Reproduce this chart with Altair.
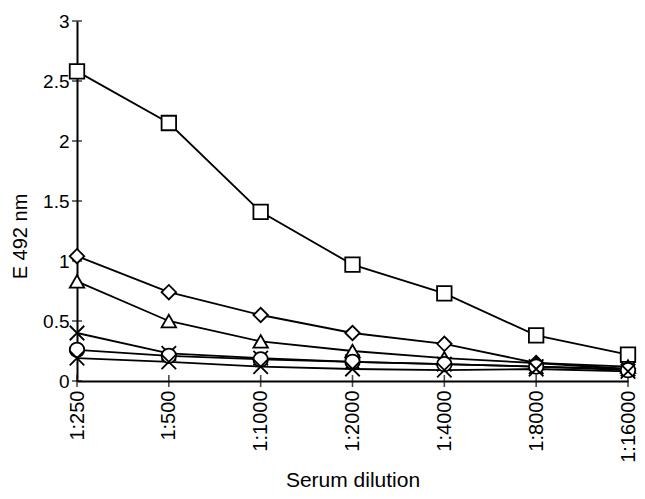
import altair as alt
import pandas as pd

dilutions = ["1:250", "1:500", "1:1000", "1:2000", "1:4000", "1:8000", "1:16000"]
s_square = [2.58, 2.15, 1.41, 0.97, 0.73, 0.38, 0.22]
s_diamond = [1.04, 0.74, 0.55, 0.40, 0.31, 0.15, 0.10]
s_triangle = [0.83, 0.50, 0.33, 0.25, 0.19, 0.15, 0.12]
s_cross1 = [0.40, 0.23, 0.19, 0.16, 0.14, 0.12, 0.10]
s_circle = [0.26, 0.21, 0.18, 0.16, 0.14, 0.12, 0.09]
s_cross2 = [0.19, 0.16, 0.12, 0.10, 0.09, 0.10, 0.08]
y_ticks = [0, 0.5, 1, 1.5, 2, 2.5, 3]

series = {
    "A": s_square,
    "B": s_diamond,
    "C": s_triangle,
    "D": s_cross1,
    "E": s_circle,
    "F": s_cross2,
}
xpath = "M-1,-1L1,1M-1,1L1,-1"
shape_range = ["square", "diamond", "triangle-up", xpath, "circle", xpath]

rows = []
for name, vals in series.items():
    for d, v in zip(dilutions, vals):
        rows.append({"dilution": d, "value": v, "series": name})
df = pd.DataFrame(rows)

xscale = alt.Scale(type="point", domain=dilutions, padding=0)
yscale = alt.Scale(domain=[0, 3], nice=False)
FONT = "Liberation Sans"

x_enc = alt.X(
    "dilution:N",
    scale=xscale,
    sort=dilutions,
    axis=alt.Axis(
        title="Serum dilution",
        labelAngle=270,
        ticks=False,
        labelPadding=9,
        titlePadding=7,
        labelFontSize=20,
        titleFontSize=21,
        labelFont=FONT,
        titleFont=FONT,
        titleFontWeight="normal",
        labelColor="black",
        titleColor="black",
        domainColor="black",
        domainWidth=2,
        grid=False,
    ),
)
y_enc = alt.Y(
    "value:Q",
    scale=yscale,
    axis=alt.Axis(
        title="E 492 nm",
        values=y_ticks,
        format="~g",
        ticks=False,
        labelPadding=8,
        titlePadding=12,
        titleY=215,
        labelFontSize=19,
        titleFontSize=20,
        labelFont=FONT,
        titleFont=FONT,
        titleFontWeight="normal",
        labelColor="black",
        titleColor="black",
        domainColor="black",
        domainWidth=2,
        grid=False,
    ),
)

base = alt.Chart(df)
lines = base.mark_line(color="black", strokeWidth=1.8).encode(
    x=x_enc, y=y_enc, detail="series:N"
)
points = base.mark_point(
    filled=False, fill="white", fillOpacity=1, stroke="black", strokeWidth=1.8, opacity=1, size=210
).encode(
    x=alt.X("dilution:N", scale=xscale, sort=dilutions),
    y=alt.Y("value:Q", scale=yscale),
    shape=alt.Shape("series:N", scale=alt.Scale(domain=list(series.keys()), range=shape_range), legend=None),
)

ytick_df = pd.DataFrame({"dilution": [dilutions[0]] * len(y_ticks), "value": y_ticks})
yticks = alt.Chart(ytick_df).mark_tick(orient="horizontal", size=10, thickness=1.6, color="black").encode(
    x=alt.X("dilution:N", scale=xscale, sort=dilutions),
    y=alt.Y("value:Q", scale=yscale),
)
xtick_df = pd.DataFrame({"dilution": dilutions, "value": [0] * len(dilutions)})
xticks = alt.Chart(xtick_df).mark_tick(orient="vertical", size=12, thickness=1.6, color="black").encode(
    x=alt.X("dilution:N", scale=xscale, sort=dilutions),
    y=alt.Y("value:Q", scale=yscale),
)

chart = alt.layer(lines, yticks, xticks, points).properties(
    width=551,
    height=360,
    padding={"left": 69, "top": 13, "right": 9, "bottom": 116},
    autosize=alt.AutoSizeParams(type="none"),
    background="white",
).configure_view(stroke=None)

chart.save("out.html", embed_options={"renderer": "svg", "actions": False})
